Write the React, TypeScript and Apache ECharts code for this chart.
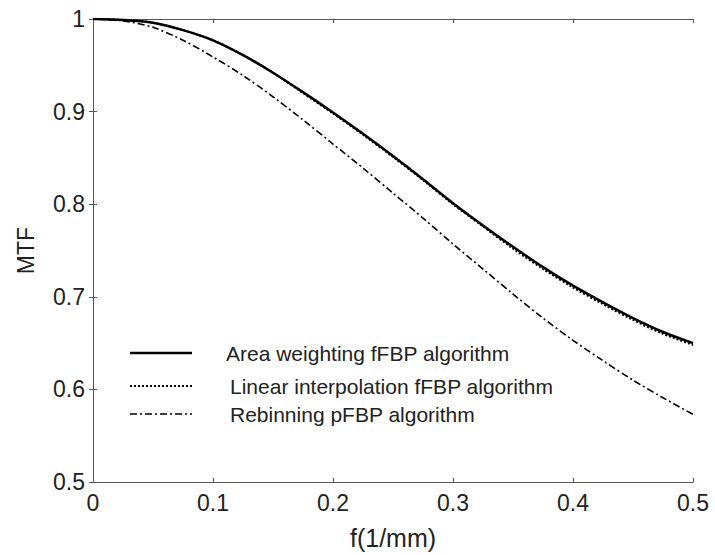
import React, { useEffect, useRef } from "react";
import * as echarts from "echarts";

const freq = [0, 0.025, 0.05, 0.075, 0.1, 0.125, 0.15, 0.175, 0.2, 0.225, 0.25, 0.275, 0.3, 0.325, 0.35, 0.375, 0.4, 0.425, 0.45, 0.475, 0.5];
const areaWeighting = [1.0, 0.999, 0.996, 0.988, 0.977, 0.961, 0.942, 0.921, 0.899, 0.876, 0.852, 0.827, 0.801, 0.777, 0.754, 0.732, 0.712, 0.694, 0.677, 0.662, 0.65];
const linearInterp = [1.0, 0.999, 0.996, 0.988, 0.977, 0.961, 0.942, 0.92, 0.898, 0.875, 0.851, 0.826, 0.8, 0.776, 0.752, 0.73, 0.71, 0.692, 0.675, 0.66, 0.648];
const rebinning = [1.0, 0.998, 0.991, 0.977, 0.959, 0.939, 0.916, 0.891, 0.865, 0.839, 0.812, 0.785, 0.757, 0.73, 0.703, 0.677, 0.653, 0.631, 0.61, 0.591, 0.573];
const seriesNames = ["Area weighting fFBP algorithm", "Linear interpolation fFBP algorithm", "Rebinning pFBP algorithm"];
const xAxisName = "f(1/mm)";
const yAxisName = "MTF";

const FONT = '"Liberation Sans", Arial, sans-serif';
const dashes: (number[] | "solid")[] = ["solid", [2, 2], [7, 3, 2, 3]];
const widths = [2.5, 2, 1.6];

export default function App() {
  const ref = useRef<HTMLDivElement>(null);
  useEffect(() => {
    if (!ref.current) return;
    const chart = echarts.init(ref.current, null, { renderer: "svg" });
    const datasets = [areaWeighting, linearInterp, rebinning];
    const tickCommon = {
      axisLine: { show: true, lineStyle: { color: "#555", width: 1 } },
      axisTick: { show: true, inside: true, length: 4, lineStyle: { color: "#555" } },
      splitLine: { show: false },
    };
    const legendGraphics: any[] = [];
    const legendY = [353, 386, 414];
    const textX = [226, 230, 230];
    seriesNames.forEach((n, i) => {
      legendGraphics.push({
        type: "line",
        shape: { x1: 130, y1: legendY[i], x2: 192, y2: legendY[i] },
        style: {
          stroke: "#000",
          lineWidth: widths[i],
          lineDash: dashes[i] === "solid" ? null : (dashes[i] as number[]),
        },
      });
      legendGraphics.push({
        type: "text",
        x: textX[i],
        y: legendY[i],
        style: {
          text: n,
          fill: "#222",
          fontSize: 21,
          fontFamily: FONT,
          verticalAlign: "middle",
          align: "left",
        },
      });
    });
    chart.setOption({
      animation: false,
      backgroundColor: "#fff",
      textStyle: { fontFamily: FONT },
      grid: { left: 93, right: 22, top: 19, bottom: 69 },
      xAxis: [
        {
          type: "value",
          min: 0,
          max: 0.5,
          interval: 0.1,
          position: "bottom",
          name: xAxisName,
          nameLocation: "middle",
          nameGap: 43,
          nameTextStyle: { fontSize: 25, color: "#222", fontFamily: FONT },
          axisLabel: { fontSize: 23, color: "#222", margin: 9, fontFamily: FONT },
          ...tickCommon,
        },
        {
          type: "value",
          min: 0,
          max: 0.5,
          interval: 0.1,
          position: "top",
          axisLabel: { show: false },
          ...tickCommon,
        },
      ],
      yAxis: [
        {
          type: "value",
          min: 0.5,
          max: 1,
          interval: 0.1,
          position: "left",
          name: yAxisName,
          nameLocation: "middle",
          nameGap: 56,
          nameTextStyle: { fontSize: 23, color: "#222", fontFamily: FONT },
          axisLabel: { fontSize: 23, color: "#222", margin: 8, fontFamily: FONT },
          ...tickCommon,
        },
        {
          type: "value",
          min: 0.5,
          max: 1,
          interval: 0.1,
          position: "right",
          axisLabel: { show: false },
          ...tickCommon,
        },
      ],
      series: seriesNames.map((n, i) => ({
        name: n,
        type: "line",
        xAxisIndex: 0,
        yAxisIndex: 0,
        smooth: 0.3,
        showSymbol: false,
        symbol: "none",
        data: freq.map((f, k) => [f, datasets[i][k]]),
        lineStyle: { color: "#000", width: widths[i], type: dashes[i] },
        z: 3 + i,
      })),
      graphic: legendGraphics,
    });
    return () => chart.dispose();
  }, []);
  return (
    <div
      ref={ref}
      style={{ position: "fixed", left: 0, top: 0, width: 715, height: 555, background: "#fff" }}
    />
  );
}
